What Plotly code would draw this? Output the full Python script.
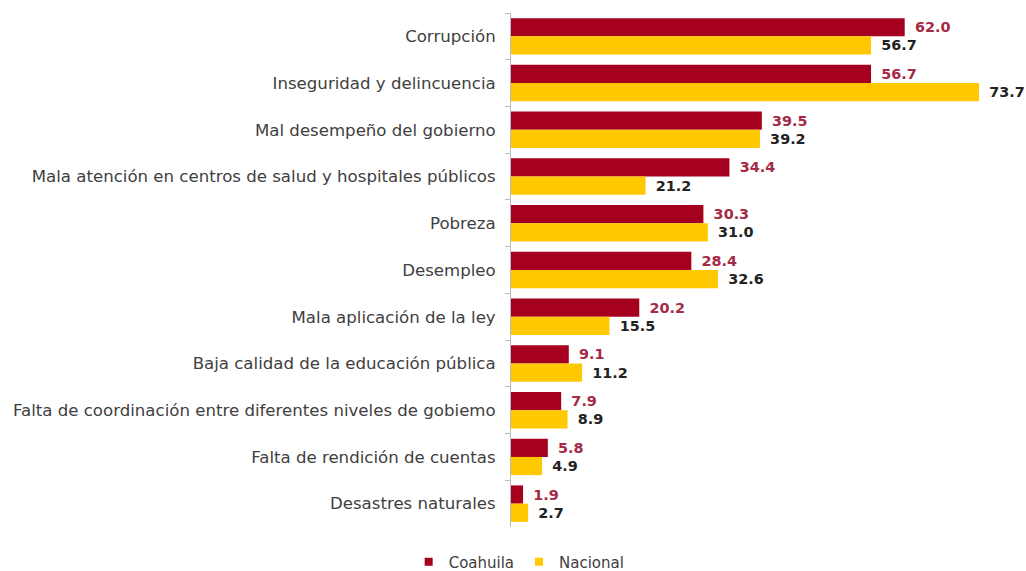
import plotly.graph_objects as go

categories = [
    "Corrupción",
    "Inseguridad y delincuencia",
    "Mal desempeño del gobierno",
    "Mala atención en centros de salud y hospitales públicos",
    "Pobreza",
    "Desempleo",
    "Mala aplicación de la ley",
    "Baja calidad de la educación pública",
    "Falta de coordinación entre diferentes niveles de gobiemo",
    "Falta de rendición de cuentas",
    "Desastres naturales",
]
coahuila = [62.0, 56.7, 39.5, 34.4, 30.3, 28.4, 20.2, 9.1, 7.9, 5.8, 1.9]
nacional = [56.7, 73.7, 39.2, 21.2, 31.0, 32.6, 15.5, 11.2, 8.9, 4.9, 2.7]
series_names = ["Coahuila", "Nacional"]

RED = "#A6001F"
YEL = "#FFC800"
FONT = "DejaVu Sans, Verdana, sans-serif"

fig = go.Figure()
fig.add_trace(go.Bar(
    y=categories, x=coahuila, name=series_names[0], orientation="h",
    marker=dict(color=RED, line=dict(width=0)),
    texttemplate="\u2002%{x:.1f}", textposition="outside", cliponaxis=False,
    constraintext="none", showlegend=False,
    textfont=dict(family=FONT, size=14.4, color="#A52A45", weight="bold"),
))
fig.add_trace(go.Bar(
    y=categories, x=nacional, name=series_names[1], orientation="h",
    marker=dict(color=YEL, line=dict(width=0)),
    texttemplate="\u2002%{x:.1f}", textposition="outside", cliponaxis=False,
    constraintext="none", showlegend=False,
    textfont=dict(family=FONT, size=14.4, color="#222222", weight="bold"),
))
# legend entries with small square markers
for name, col in zip(series_names, [RED, YEL]):
    fig.add_trace(go.Scatter(
        x=[None], y=[None], mode="markers", name=name,
        marker=dict(symbol="square", size=8, color=col),
        showlegend=True,
    ))

fig.update_layout(
    width=1026, height=571,
    margin=dict(l=511, r=7, t=13, b=44),
    barmode="group", bargap=0.22, bargroupgap=0,
    plot_bgcolor="white", paper_bgcolor="white",
    font=dict(family=FONT, size=16.6, color="#404040"),
    xaxis=dict(range=[0, 80], visible=False),
    yaxis=dict(
        autorange="reversed", showline=True, linecolor="#BBBBBB", linewidth=1,
        ticks="outside", tickson="boundaries", ticklen=5, tickcolor="#BBBBBB",
        showgrid=False, ticklabelstandoff=11,
        tickfont=dict(family=FONT, size=16.6, color="#404040"),
    ),
    legend=dict(
        orientation="h", xref="container", yref="container",
        x=0.506, xanchor="center", y=0.0158, yanchor="middle",
        font=dict(family=FONT, size=15, color="#404040"),
        itemwidth=30, traceorder="normal",
    ),
    showlegend=True,
)

fig.write_html(
    "out.html",
    config={"displayModeBar": False},
    post_script="document.body.style.margin='0';document.body.style.overflow='hidden';",
)
